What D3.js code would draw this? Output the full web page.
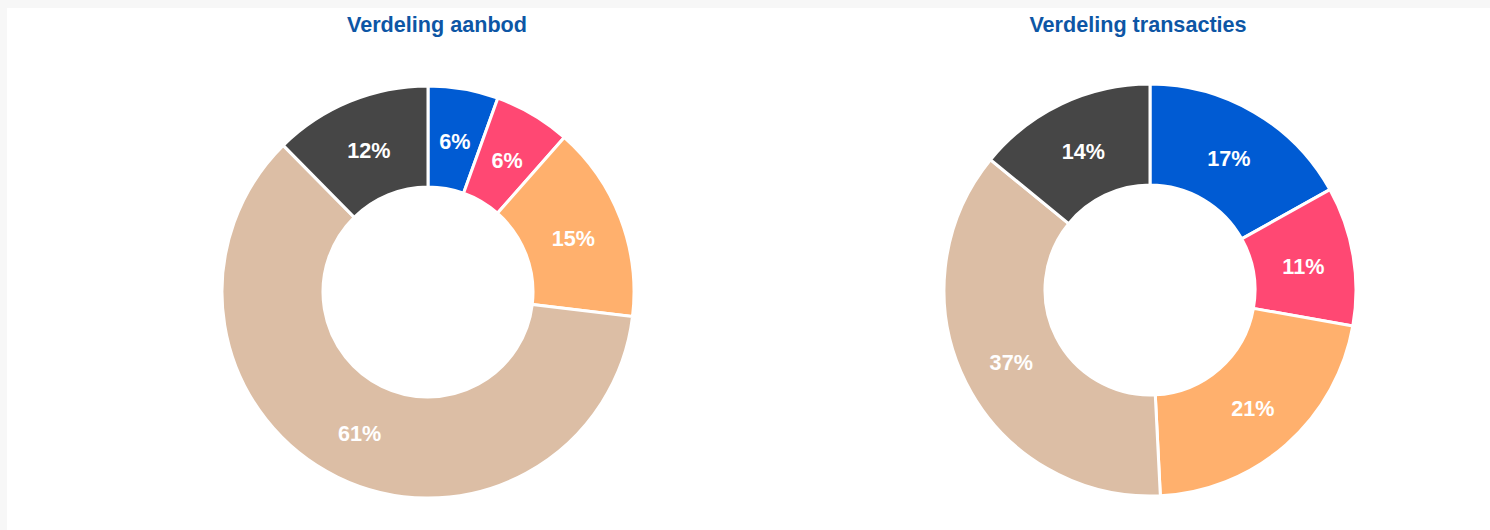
<!DOCTYPE html>
<html>
<head>
<meta charset="utf-8">
<script src="https://cdn.jsdelivr.net/npm/d3@7"></script>
<style>
  html, body { margin: 0; padding: 0; background: #f7f7f7; }
  svg { display: block; }
</style>
</head>
<body>
<svg id="chart" width="1490" height="530"></svg>
<script>
const categories = ["Cat 1", "Cat 2", "Cat 3", "Cat 4", "Cat 5"];
const titles = ["Verdeling aanbod", "Verdeling transacties"];
const aanbodValues = [5.5, 6.0, 15.4, 60.7, 12.4];
const transactieValues = [16.9, 10.9, 21.4, 36.7, 14.1];
const colors = ["#005bd3", "#ff4873", "#ffb06d", "#dcbea5", "#464646"];

const svg = d3.select("#chart");
svg.append("rect").attr("x", 7).attr("y", 8).attr("width", 1483).attr("height", 522).attr("fill", "#ffffff");

const panels = [
  { title: titles[0], values: aanbodValues, cx: 428, cy: 292, tx: 437 },
  { title: titles[1], values: transactieValues, cx: 1150, cy: 290, tx: 1138 }
];

const outerR = 206, innerR = 105;
const color = d3.scaleOrdinal().domain(categories).range(colors);
const pie = d3.pie().sort(null).value(d => d.v);
const arc = d3.arc().innerRadius(innerR).outerRadius(outerR);

panels.forEach(p => {
  svg.append("text")
    .attr("x", p.tx).attr("y", 32)
    .attr("text-anchor", "middle")
    .attr("font-family", "Liberation Sans, Arial, sans-serif")
    .attr("font-weight", "bold")
    .attr("font-size", "21.6px")
    .attr("fill", "#0d56a5")
    .text(p.title);

  const data = categories.map((c, i) => ({ c, v: p.values[i] }));
  const g = svg.append("g").attr("transform", `translate(${p.cx},${p.cy})`);
  const arcs = pie(data);
  g.selectAll("path").data(arcs).join("path")
    .attr("d", arc)
    .attr("fill", d => color(d.data.c))
    .attr("stroke", "#ffffff")
    .attr("stroke-width", 3)
    .attr("stroke-linejoin", "miter");
  g.selectAll("text").data(arcs).join("text")
    .attr("transform", d => `translate(${arc.centroid(d)})`)
    .attr("text-anchor", "middle")
    .attr("dy", "0.45em")
    .attr("font-family", "Liberation Sans, Arial, sans-serif")
    .attr("font-weight", "bold")
    .attr("font-size", "21.6px")
    .attr("fill", "#ffffff")
    .text(d => Math.round(d.data.v) + "%");
});
</script>
</body>
</html>
